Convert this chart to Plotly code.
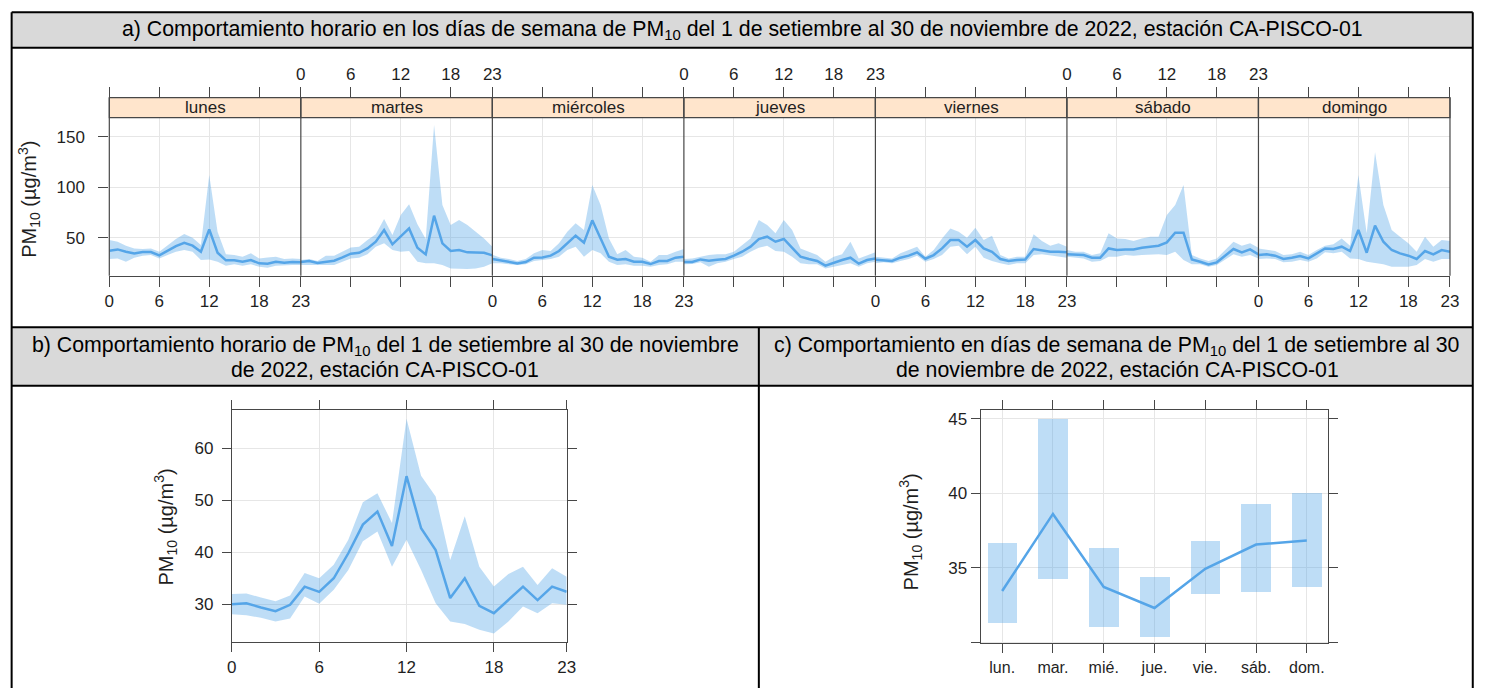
import plotly.graph_objects as go

W, H = 1489, 688

# ---------------------------------------------------------------- data
horas = list(range(24))
dias = ["lunes", "martes", "miércoles", "jueves", "viernes", "sábado", "domingo"]
dias_cortos = ["lun.", "mar.", "mié.", "jue.", "vie.", "sáb.", "dom."]

# hourly mean PM10 per weekday with lower / upper confidence limits (µg/m³)
lunes_media = [37.1, 38.4, 36.1, 34.5, 35.8, 35.8, 32.5, 36.8, 41.7, 45.0, 42.1, 36.1,
               58.3, 35.1, 27.6, 27.6, 26.2, 27.9, 24.6, 24.3, 26.2, 25.2, 25.9, 25.6]
lunes_inf = [28.9, 29.5, 26.2, 30.2, 32.2, 32.8, 29.5, 32.8, 36.1, 37.8, 36.1, 27.9,
             28.5, 26.2, 22.3, 23.6, 22.3, 23.6, 21.3, 20.3, 22.3, 22.9, 22.9, 22.9]
lunes_sup = [47.7, 46.0, 42.1, 39.4, 38.8, 39.4, 36.1, 42.7, 48.7, 53.6, 50.0, 42.7,
             112.0, 55.9, 33.5, 32.8, 31.2, 34.5, 29.5, 30.5, 31.2, 28.9, 29.5, 28.9]

martes_media = [25.9, 26.9, 24.9, 25.9, 27.2, 30.5, 34.2, 35.1, 39.4, 46.0, 57.6, 43.4,
                51.0, 59.2, 40.1, 33.5, 71.8, 44.4, 36.8, 37.8, 35.5, 35.1, 35.1, 32.5]
martes_inf = [22.9, 23.6, 22.9, 22.9, 22.9, 26.2, 29.5, 30.2, 33.5, 41.1, 44.4, 37.8,
              36.1, 36.8, 26.2, 24.6, 24.6, 22.9, 19.6, 19.0, 19.0, 19.6, 21.3, 24.6]
martes_sup = [27.9, 28.9, 26.9, 32.2, 32.2, 36.1, 40.4, 41.1, 47.7, 53.3, 68.5, 52.6,
              72.4, 83.0, 63.2, 48.7, 161.5, 82.3, 62.5, 67.5, 62.5, 55.9, 49.3, 41.1]

miercoles_media = [28.9, 27.6, 25.9, 24.6, 25.9, 30.2, 30.5, 32.2, 36.8, 44.4, 52.0, 45.0,
                   67.2, 49.3, 31.2, 28.2, 28.9, 26.2, 26.2, 23.9, 26.9, 26.9, 30.2, 31.2]
miercoles_inf = [24.6, 24.6, 23.6, 22.9, 23.6, 26.9, 27.6, 28.9, 31.2, 37.8, 41.1, 31.2,
                 37.8, 34.5, 26.2, 22.9, 23.6, 22.3, 22.3, 21.3, 22.9, 23.6, 26.2, 26.2]
miercoles_sup = [33.0, 30.2, 28.9, 26.9, 28.9, 34.5, 37.8, 36.8, 44.4, 55.9, 64.2, 57.6,
                 102.1, 82.3, 49.3, 33.5, 37.8, 31.2, 30.2, 26.2, 32.8, 32.8, 36.1, 38.8]

jueves_media = [25.9, 25.9, 28.5, 27.2, 28.2, 28.9, 32.2, 36.1, 41.1, 48.7, 51.0, 46.0,
                48.7, 39.4, 31.2, 28.9, 26.9, 22.3, 25.2, 27.9, 30.2, 24.3, 27.9, 29.5]
jueves_inf = [23.6, 23.9, 25.6, 21.3, 24.6, 26.2, 28.9, 31.2, 36.1, 40.1, 42.1, 36.8,
              36.1, 31.2, 24.6, 23.6, 23.6, 19.6, 21.3, 22.9, 24.6, 21.3, 24.6, 26.2]
jueves_sup = [28.9, 29.5, 31.2, 32.8, 33.5, 33.5, 36.1, 42.7, 49.3, 67.5, 62.5, 54.3,
              67.5, 57.6, 39.4, 36.1, 32.8, 26.2, 31.2, 33.5, 46.0, 29.5, 32.8, 35.5]

viernes_media = [28.2, 27.9, 26.9, 30.2, 32.2, 35.5, 29.2, 32.8, 39.4, 47.7, 47.7, 41.1,
                 47.7, 39.4, 36.1, 28.9, 26.9, 27.9, 28.5, 38.8, 37.8, 36.1, 36.1, 35.5]
viernes_inf = [24.6, 25.6, 24.6, 26.9, 28.9, 32.2, 26.2, 28.9, 32.8, 41.1, 42.1, 33.5,
               41.1, 30.2, 26.9, 24.6, 22.9, 24.6, 24.6, 32.8, 33.5, 32.8, 31.2, 30.2]
viernes_sup = [31.2, 30.2, 29.5, 34.5, 37.8, 41.1, 31.2, 37.8, 49.3, 59.2, 55.9, 50.0,
               59.9, 47.7, 52.0, 32.8, 29.5, 31.2, 31.2, 53.3, 46.7, 42.1, 44.4, 41.1]

sabado_media = [33.5, 33.5, 32.8, 30.2, 30.2, 39.4, 37.8, 38.4, 38.4, 40.1, 41.1, 42.1,
                45.4, 55.0, 55.0, 28.5, 26.2, 23.6, 25.6, 32.2, 38.8, 35.5, 38.4, 33.5]
sabado_inf = [31.2, 30.2, 29.5, 26.2, 26.9, 31.2, 31.2, 32.8, 32.2, 32.8, 33.5, 33.5,
              32.8, 36.1, 28.0, 23.6, 23.6, 21.3, 22.9, 27.9, 33.5, 31.2, 32.8, 29.5]
sabado_sup = [37.8, 36.1, 36.1, 32.8, 34.5, 54.3, 49.3, 48.7, 46.7, 49.3, 51.0, 51.0,
              72.4, 82.3, 102.1, 32.8, 29.5, 26.9, 29.5, 37.8, 46.0, 42.1, 44.4, 40.1]

domingo_media = [32.8, 33.5, 32.2, 28.9, 30.2, 31.8, 29.5, 34.5, 39.4, 38.8, 41.1, 36.8,
                 57.6, 35.1, 61.9, 46.0, 37.8, 34.5, 32.2, 28.9, 36.8, 33.5, 37.8, 36.1]
domingo_inf = [28.9, 29.5, 28.9, 25.6, 26.2, 27.9, 26.2, 29.5, 35.5, 34.5, 36.1, 29.5,
               28.9, 26.2, 24.6, 23.6, 21.3, 21.3, 21.3, 22.9, 28.9, 26.2, 28.9, 28.9]
domingo_sup = [39.4, 37.8, 36.8, 32.8, 33.5, 36.1, 32.8, 37.8, 42.1, 43.4, 49.3, 42.1,
               112.0, 54.3, 134.5, 82.3, 57.6, 51.0, 44.4, 36.1, 51.0, 41.1, 47.7, 46.7]

# overall hourly profile
hora_media = [30.0, 30.2, 29.4, 28.7, 29.9, 33.4, 32.4, 35.0, 39.8, 45.3, 47.8, 41.2,
              54.6, 44.6, 40.4, 31.2, 35.0, 29.7, 28.3, 30.8, 33.4, 30.8, 33.4, 32.4]
hora_inf = [28.1, 27.9, 27.4, 26.7, 27.3, 31.5, 30.1, 32.8, 36.6, 42.1, 44.0, 37.2,
            42.4, 36.6, 30.2, 26.7, 26.2, 25.1, 24.4, 26.7, 29.6, 28.3, 30.2, 29.9]
hora_sup = [32.0, 32.1, 31.3, 30.6, 31.7, 36.0, 35.0, 37.6, 42.4, 49.6, 51.3, 45.6,
            65.6, 54.7, 50.7, 38.5, 46.9, 37.2, 33.4, 35.8, 37.2, 33.7, 36.9, 35.3]

# weekday means
dia_media = [33.44, 38.62, 33.71, 32.30, 34.93, 36.56, 36.83]
dia_inf = [31.32, 34.26, 31.05, 30.36, 33.24, 33.37, 33.71]
dia_sup = [36.67, 45.00, 36.36, 34.35, 36.83, 39.31, 40.00]

semana = [
    (lunes_media, lunes_inf, lunes_sup),
    (martes_media, martes_inf, martes_sup),
    (miercoles_media, miercoles_inf, miercoles_sup),
    (jueves_media, jueves_inf, jueves_sup),
    (viernes_media, viernes_inf, viernes_sup),
    (sabado_media, sabado_inf, sabado_sup),
    (domingo_media, domingo_inf, domingo_sup),
]

# ---------------------------------------------------------------- style
LINE = "#55a5e8"
BAND = "rgba(85,165,232,0.38)"
AX = "#474747"
GRID = "#e6e6e6"
TXT = "#1f1f1f"
FONT = "Liberation Sans, Arial, sans-serif"
STRIP = "#ffe5cc"
HEAD = "#d9d9d9"
LW = 2.5


def fx(p):
    return p / W


def fy(p):
    return 1 - p / H


# panel a geometry (pixels)
A_L, A_R = 105.3, 1458.7
A_STRIP_T, A_STRIP_B, A_B = 97.7, 117.7, 275.7
PW = (A_R - A_L) / 7

fig = go.Figure()

axis_common = dict(ticks="outside", tickwidth=1.2, tickcolor=AX, showline=True,
                   linecolor=AX, linewidth=1.2, mirror="ticks", showgrid=True,
                   gridcolor=GRID, gridwidth=1, zeroline=False,
                   tickfont=dict(size=17, color=TXT, family=FONT))

layout_axes = {}
for i, (m, lo, hi) in enumerate(semana):
    xa = "x" if i == 0 else f"x{i + 1}"
    fig.add_trace(go.Scatter(x=horas + horas[::-1], y=hi + lo[::-1], fill="toself",
                             fillcolor=BAND, line=dict(width=0), mode="lines",
                             hoverinfo="skip", showlegend=False, xaxis=xa, yaxis="y"))
    fig.add_trace(go.Scatter(x=horas, y=m, mode="lines", line=dict(color=LINE, width=LW),
                             showlegend=False, xaxis=xa, yaxis="y"))
    key = "xaxis" if i == 0 else f"xaxis{i + 1}"
    layout_axes[key] = dict(axis_common, domain=[fx(A_L + i * PW), fx(A_L + (i + 1) * PW)],
                            anchor="y", range=[0, 23], tickvals=[0, 6, 12, 18, 23],
                            side="top" if i % 2 else "bottom", ticklen=10)

# value at the strip top so the strip sits inside the y domain
Y_BOTTOM = 12.38
Y_TOP = 188.6
layout_axes["yaxis"] = dict(axis_common, domain=[fy(A_B), fy(A_STRIP_T)], anchor="x",
                            range=[Y_BOTTOM, Y_TOP], tickvals=[50, 100, 150], ticklen=10,
                            showline=False, mirror=False, ticklabelstandoff=10)
layout_axes["yaxis8"] = dict(overlaying="y", anchor="x7", side="right",
                             range=[Y_BOTTOM, Y_TOP], tickvals=[50, 100, 150],
                             ticks="outside", ticklen=10, tickwidth=1.2, tickcolor=AX,
                             showticklabels=False, showgrid=False, zeroline=False,
                             showline=False)

# panel b: hourly profile
fig.add_trace(go.Scatter(x=horas + horas[::-1], y=hora_sup + hora_inf[::-1], fill="toself",
                         fillcolor=BAND, line=dict(width=0), mode="lines", hoverinfo="skip",
                         showlegend=False, xaxis="x8", yaxis="y9"))
fig.add_trace(go.Scatter(x=horas, y=hora_media, mode="lines", line=dict(color=LINE, width=LW),
                         showlegend=False, xaxis="x8", yaxis="y9"))
layout_axes["xaxis8"] = dict(axis_common, domain=[fx(229), fx(567)], anchor="y9",
                             range=[0, 23], tickvals=[0, 6, 12, 18, 23], ticklen=9)
layout_axes["yaxis9"] = dict(axis_common, domain=[fy(642.3), fy(410.3)], anchor="x8",
                             range=[22.71, 67.24], tickvals=[30, 40, 50, 60], ticklen=9,
                             ticklabelstandoff=5)

# panel c: weekday profile
fig.add_trace(go.Bar(x=dias_cortos, y=[s - l for s, l in zip(dia_sup, dia_inf)], base=dia_inf,
                     width=0.585, marker=dict(color=BAND, line=dict(width=0)),
                     hoverinfo="skip", showlegend=False, xaxis="x9", yaxis="y10"))
fig.add_trace(go.Scatter(x=dias_cortos, y=dia_media, mode="lines",
                         line=dict(color=LINE, width=LW), showlegend=False,
                         xaxis="x9", yaxis="y10"))
layout_axes["xaxis9"] = dict(axis_common, domain=[fx(985), fx(1335.7)], anchor="y10",
                             type="category", range=[-0.422, 6.42], ticklen=9,
                             tickfont=dict(size=16, color=TXT, family=FONT))
layout_axes["yaxis10"] = dict(axis_common, domain=[fy(643.3), fy(410)], anchor="x9",
                              range=[29.93, 45.6], tickvals=[30, 35, 40, 45],
                              ticktext=["", "35", "40", "45"], ticklen=9)

# ---------------------------------------------------------------- table frame
shapes = []
for y0, y1 in [(12.3, 47.7), (327.3, 385.7)]:
    shapes.append(dict(type="rect", xref="paper", yref="paper", x0=fx(6.7), x1=fx(1481.7),
                       y0=fy(y1), y1=fy(y0), fillcolor=HEAD, line=dict(width=0), layer="below"))
frame_lines = [
    (6.7, 12.3, 1481.7, 12.3), (6.7, 47.7, 1481.7, 47.7), (6.7, 327.3, 1481.7, 327.3),
    (6.7, 385.7, 1481.7, 385.7), (6.7, 12.3, 6.7, 690), (1481.7, 12.3, 1481.7, 690),
    (761, 327.3, 761, 690),
]
for x0, y0, x1, y1 in frame_lines:
    shapes.append(dict(type="line", xref="paper", yref="paper", x0=fx(x0), x1=fx(x1),
                       y0=fy(y0), y1=fy(y1), line=dict(color="black", width=2), layer="above"))

# strips and panel separators of panel a
annotations = []
for i, dia in enumerate(dias):
    x0, x1 = A_L + i * PW, A_L + (i + 1) * PW
    shapes.append(dict(type="rect", xref="paper", yref="paper", x0=fx(x0), x1=fx(x1),
                       y0=fy(A_STRIP_B), y1=fy(A_STRIP_T), fillcolor=STRIP,
                       line=dict(color=AX, width=1.2), layer="above"))
    annotations.append(dict(text=dia, xref="paper", yref="paper", x=fx((x0 + x1) / 2),
                            y=fy((A_STRIP_T + A_STRIP_B) / 2), showarrow=False,
                            xanchor="center", yanchor="middle",
                            font=dict(size=17, color=TXT, family=FONT)))
for i in range(8):
    x = A_L + i * PW
    shapes.append(dict(type="line", xref="paper", yref="paper", x0=fx(x), x1=fx(x),
                       y0=fy(A_B), y1=fy(A_STRIP_T), line=dict(color=AX, width=1.2),
                       layer="above"))

# headers (one annotation per text line)
HF = dict(size=21.3, color="black", family=FONT)
header_lines = [
    ("a) Comportamiento horario en los días de semana de PM<sub>10</sub> del 1 de setiembre "
     "al 30 de noviembre de 2022, estación CA-PISCO-01", 744.2, 30),
    ("b) Comportamiento horario de PM<sub>10</sub> del 1 de setiembre al 30 de noviembre",
     384, 346.5),
    ("de 2022, estación CA-PISCO-01", 384, 370),
    ("c) Comportamiento en días de semana de PM<sub>10</sub> del 1 de setiembre al 30",
     1123, 346.5),
    ("de noviembre de 2022, estación CA-PISCO-01", 1123, 370),
]
for text, x, y in header_lines:
    annotations.append(dict(text=text, xref="paper", yref="paper", x=fx(x), y=fy(y),
                            showarrow=False, xanchor="center", yanchor="middle", font=HF))

# y titles
YT = "PM<sub>10</sub> (µg/m<sup>3</sup>)"
for x, y in [(25, 199), (162, 527), (914, 532)]:
    annotations.append(dict(text=YT, xref="paper", yref="paper", x=fx(x), y=fy(y),
                            showarrow=False, textangle=-90, xanchor="center",
                            yanchor="middle", font=dict(size=20, color=TXT, family=FONT)))

fig.update_layout(
    width=W, height=H, autosize=False,
    margin=dict(l=0, r=0, t=0, b=0, pad=0),
    paper_bgcolor="white", plot_bgcolor="white",
    font=dict(family=FONT, color=TXT),
    showlegend=False, bargap=0,
    shapes=shapes, annotations=annotations,
    **layout_axes,
)

fig.write_html("out.html")
